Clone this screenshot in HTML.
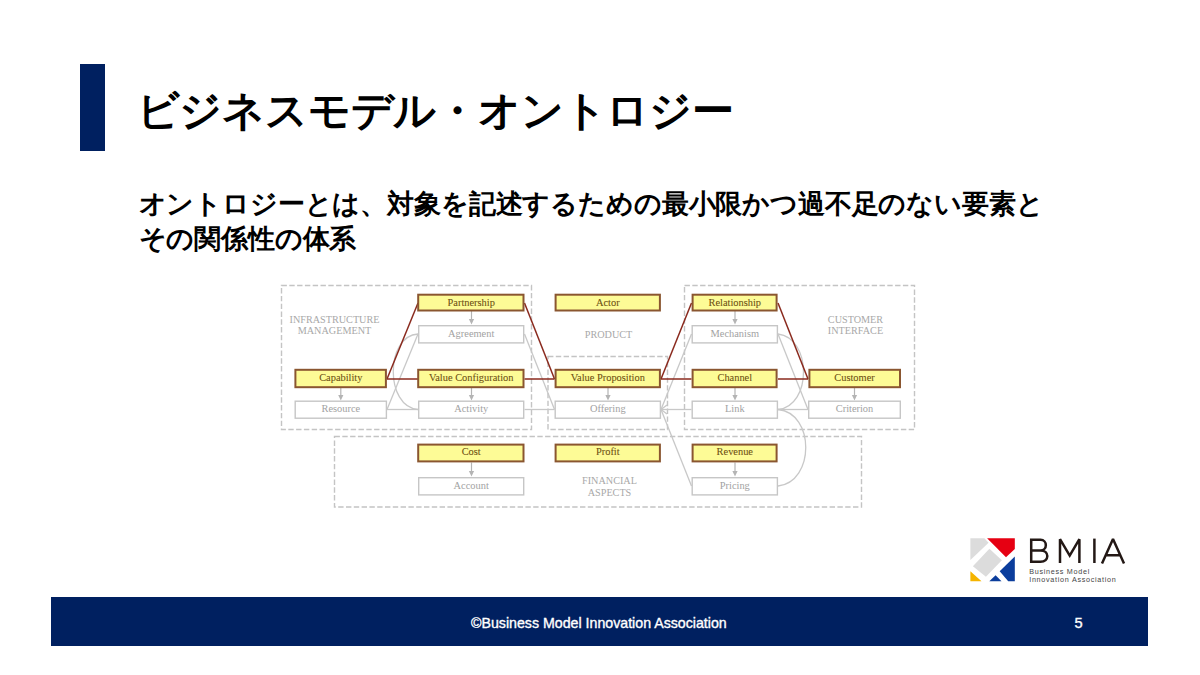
<!DOCTYPE html>
<html lang="ja">
<head>
<meta charset="utf-8">
<title>ビジネスモデル・オントロジー</title>
<style>
html,body{margin:0;padding:0;background:#fff;}
body{width:1200px;height:675px;position:relative;overflow:hidden;font-family:"Liberation Sans",sans-serif;}
.bar{position:absolute;left:80px;top:64px;width:25px;height:87px;background:#002060;}
.title{position:absolute;left:136.5px;top:83px;font-size:42px;letter-spacing:-0.2px;font-weight:bold;color:#000;white-space:nowrap;line-height:56px;}
.lead{position:absolute;left:138.5px;top:186.5px;font-size:26.8px;font-weight:bold;color:#000;line-height:35px;letter-spacing:-0.15px;white-space:nowrap;}
.footer{position:absolute;left:51px;top:597px;width:1097px;height:49px;background:#002060;color:#fff;}
.footer .copy{position:absolute;left:420px;top:17px;font-size:14.2px;letter-spacing:0px;-webkit-text-stroke:0.35px #fff;line-height:18px;white-space:nowrap;}
.footer .pg{position:absolute;left:1023.5px;top:17px;font-size:14.6px;-webkit-text-stroke:0.35px #fff;line-height:18px;}
svg{position:absolute;left:0;top:0;}
</style>
</head>
<body>
<div class="bar"></div>
<div class="title">ビジネスモデル・オントロジー</div>
<div class="lead">オントロジーとは、対象を記述するための最小限かつ過不足のない要素と<br>その関係性の体系</div>

<svg width="1200" height="675" viewBox="0 0 1200 675" font-family="Liberation Serif, serif">
  <!-- dashed group boxes -->
  <g fill="none" stroke="#c4c4c4" stroke-width="1.4" stroke-dasharray="5.4,2.4">
    <rect x="281.5" y="285.5" width="250" height="144"/>
    <rect x="548" y="356.5" width="119.5" height="73"/>
    <rect x="684.5" y="285.5" width="230" height="144"/>
    <rect x="334.5" y="436.5" width="527" height="70.5"/>
  </g>
  <!-- group labels -->
  <g fill="#a8a8a8" font-size="10.2" text-anchor="middle">
    <text x="334.5" y="322.5">INFRASTRUCTURE</text>
    <text x="334.5" y="334">MANAGEMENT</text>
    <text x="608.5" y="338">PRODUCT</text>
    <text x="855.5" y="322.5">CUSTOMER</text>
    <text x="855.5" y="334">INTERFACE</text>
    <text x="609.5" y="484">FINANCIAL</text>
    <text x="609.5" y="495.5">ASPECTS</text>
  </g>
  <!-- gray connectors -->
  <g fill="none" stroke="#c8c8c8" stroke-width="1.3">
    <line x1="387" y1="409.5" x2="418" y2="334"/>
    <line x1="387" y1="409.5" x2="418" y2="409.5"/>
    <path d="M418 334 C 385 336, 385 407, 418 409.5"/>
    <line x1="524.5" y1="334" x2="554.5" y2="409.5"/>
    <line x1="524.5" y1="409.5" x2="554.5" y2="409.5"/>
    <line x1="691.5" y1="334" x2="661" y2="409.5"/>
    <line x1="691.5" y1="409.5" x2="661" y2="409.5"/>
    <line x1="691.5" y1="486" x2="661" y2="409.5"/>
    <path d="M667 405 L661 409.5 L667 414"/>
    <line x1="778" y1="334" x2="808" y2="409.5"/>
    <line x1="778" y1="409.5" x2="808" y2="409.5"/>
    <path d="M778 334 C 812 338, 812 406, 778 409.5"/>
    <path d="M778 409.5 C 815 413, 815 482, 778 486"/>
  </g>
  <!-- small down arrows -->
  <g stroke="#b4b4b4" stroke-width="1.2" fill="#b4b4b4">
    <line x1="471.5" y1="311" x2="471.5" y2="320.5"/><polygon stroke="none" points="468.9,319.0 474.1,319.0 471.5,324.5"/>
    <line x1="340.8" y1="388" x2="340.8" y2="396.5"/><polygon stroke="none" points="338.2,395.0 343.40000000000003,395.0 340.8,400.5"/>
    <line x1="471.5" y1="388" x2="471.5" y2="396.5"/><polygon stroke="none" points="468.9,395.0 474.1,395.0 471.5,400.5"/>
    <line x1="608" y1="388" x2="608" y2="396.5"/><polygon stroke="none" points="605.4,395.0 610.6,395.0 608,400.5"/>
    <line x1="735" y1="311" x2="735" y2="320.5"/><polygon stroke="none" points="732.4,319.0 737.6,319.0 735,324.5"/>
    <line x1="735" y1="388" x2="735" y2="396.5"/><polygon stroke="none" points="732.4,395.0 737.6,395.0 735,400.5"/>
    <line x1="854.5" y1="388" x2="854.5" y2="396.5"/><polygon stroke="none" points="851.9,395.0 857.1,395.0 854.5,400.5"/>
    <line x1="471.5" y1="462.5" x2="471.5" y2="472.5"/><polygon stroke="none" points="468.9,471.0 474.1,471.0 471.5,476.5"/>
    <line x1="735" y1="462.5" x2="735" y2="472.5"/><polygon stroke="none" points="732.4,471.0 737.6,471.0 735,476.5"/>
  </g>
  <!-- red connectors -->
  <g fill="none" stroke="#8a2a1e" stroke-width="1.5">
    <line x1="387" y1="379" x2="418" y2="303"/>
    <line x1="387" y1="379" x2="418" y2="379"/>
    <line x1="524.5" y1="303" x2="554.5" y2="379"/>
    <line x1="524.5" y1="379" x2="554.5" y2="379"/>
    <line x1="661" y1="379" x2="691.5" y2="303"/>
    <line x1="661" y1="379" x2="691.5" y2="379"/>
    <line x1="778" y1="303" x2="808" y2="379"/>
    <line x1="778" y1="379" x2="808" y2="379"/>
  </g>
  <!-- gray boxes -->
  <g fill="#fff" stroke="#c6c6c6" stroke-width="1.4">
    <rect x="418.7" y="325.7" width="105" height="17.2"/>
    <rect x="692.2" y="325.7" width="85.2" height="17.2"/>
    <rect x="295.2" y="401.2" width="91.2" height="17"/>
    <rect x="418.7" y="401.2" width="105" height="17"/>
    <rect x="555.2" y="401.2" width="105.2" height="17"/>
    <rect x="692.2" y="401.2" width="85.2" height="17"/>
    <rect x="808.7" y="401.2" width="91.6" height="17"/>
    <rect x="418.7" y="477.7" width="105" height="17.2"/>
    <rect x="692.2" y="477.7" width="85.2" height="17.2"/>
  </g>
  <g fill="#a2a2a2" font-size="10.4" text-anchor="middle">
    <text x="471.2" y="336.6">Agreement</text>
    <text x="734.8" y="336.6">Mechanism</text>
    <text x="340.8" y="412">Resource</text>
    <text x="471.2" y="412">Activity</text>
    <text x="607.8" y="412">Offering</text>
    <text x="734.8" y="412">Link</text>
    <text x="854.5" y="412">Criterion</text>
    <text x="471.2" y="488.6">Account</text>
    <text x="734.8" y="488.6">Pricing</text>
  </g>
  <!-- yellow boxes -->
  <g fill="#fdfb96" stroke="#8a5630" stroke-width="2">
    <rect x="418.2" y="294.7" width="105.3" height="15.8"/>
    <rect x="555.6" y="294.7" width="104.3" height="15.8"/>
    <rect x="692.6" y="294.7" width="84" height="15.8"/>
    <rect x="295.4" y="369.8" width="90.5" height="17.4"/>
    <rect x="418.2" y="369.8" width="105.3" height="17.4"/>
    <rect x="555.6" y="369.8" width="104.3" height="17.4"/>
    <rect x="692.6" y="369.8" width="84" height="17.4"/>
    <rect x="809.4" y="369.8" width="90.6" height="17.4"/>
    <rect x="418.2" y="444.6" width="105.3" height="16.8"/>
    <rect x="555.6" y="444.6" width="104.3" height="16.8"/>
    <rect x="692.6" y="444.6" width="84" height="16.8"/>
  </g>
  <g fill="#6e5012" stroke="#6e5012" stroke-width="0.08" font-size="10.4" text-anchor="middle">
    <text x="471.2" y="305.6">Partnership</text>
    <text x="607.8" y="305.6">Actor</text>
    <text x="734.8" y="305.6">Relationship</text>
    <text x="340.8" y="381">Capability</text>
    <text x="471.2" y="381">Value Configuration</text>
    <text x="607.8" y="381">Value Proposition</text>
    <text x="734.8" y="381">Channel</text>
    <text x="854.5" y="381">Customer</text>
    <text x="471.2" y="455.2">Cost</text>
    <text x="607.8" y="455.2">Profit</text>
    <text x="734.8" y="455.2">Revenue</text>
  </g>

  <!-- BMIA logo -->
  <g transform="translate(970.4,538.3)">
    <polygon fill="#dcdcdc" points="0,0 14,0 18.2,4.4 0,21.8"/>
    <polygon fill="#dcdcdc" points="2.5,28 19,10.5 31.5,22 15.5,38.5"/>
    <polygon fill="#e60012" points="16.7,0 44.4,0 44.4,10.7 35.6,18.9"/>
    <polygon fill="#0b3d9c" points="44.4,18.1 44.4,43 37.8,43 29.3,33"/>
    <polygon fill="#0b3d9c" points="18.9,43 31.1,43 25.2,37"/>
    <polygon fill="#f5b400" points="0,33 0,43 11.1,43"/>
  </g>
  <g fill="none" stroke="#231815" stroke-width="2.5" stroke-linejoin="miter" stroke-miterlimit="2">
    <path d="M1031.2 538.6 V563 M1030 539.85 H1040.5 C1047.6 539.85 1047.6 550.4 1040.5 550.4 H1031.2 M1040.5 550.4 C1049.6 550.4 1049.6 561.75 1040.5 561.75 H1030"/>
    <path d="M1060 563 V539.2 L1069.7 555.6 L1079.4 539.2 V563"/>
    <path d="M1094.4 538.6 V563"/>
    <path d="M1102 563.5 L1113 539 L1124 563.5 M1106 555.2 H1120"/>
  </g>
  <g fill="#454545" font-family="Liberation Sans, sans-serif" font-size="7.2" letter-spacing="0.72">
    <text x="1029.2" y="573.9">Business Model</text>
    <text x="1029.2" y="581.8">Innovation Association</text>
  </g>
</svg>

<div class="footer">
  <div class="copy">©Business Model Innovation Association</div>
  <div class="pg">5</div>
</div>
</body>
</html>
